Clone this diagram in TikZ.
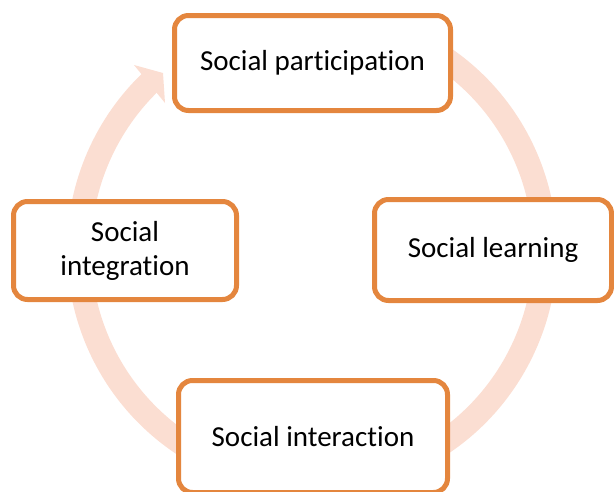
\documentclass[tikz,border=0pt]{standalone}
\usepackage{fontspec}
\setmainfont{Carlito}[Ligatures=NoCommon]
\usepackage{tikz}
\usetikzlibrary{positioning}
\definecolor{boxline}{RGB}{228,134,62}
\definecolor{ringfill}{RGB}{251,222,210}

\begin{document}
\begin{tikzpicture}[
    x=1pt, y=1pt,
    font=\fontsize{29}{34}\selectfont,
    stage/.style={draw=boxline, fill=white, rounded corners=14pt, line width=5pt, align=center, inner sep=0pt},
    ring/.style={draw=ringfill, line width=24pt, line cap=butt}
]
\clip (0,0) rectangle (614,-491);

\coordinate (hub) at (312,-250);

% cycle ring with its arrow head
\draw[ring] (hub) ++(60:233) arc[start angle=60, end angle=-227, radius=233];
\fill[ringfill] (134,-65) -- (163,-73) -- (165,-103) -- cycle;

\node[stage, minimum width=276pt, minimum height=95pt] (part) at (312.5,-63) {Social participation};
\node[stage, minimum width=237pt, minimum height=101pt] (learn) at (493,-250) {Social learning};
\node[stage, minimum width=269pt, minimum height=112pt] (inter) at (313,-436.5) {Social interaction};
\node[stage, minimum width=223pt, minimum height=98pt] (integ) at (125,-250.5) {Social\\integration};
\end{tikzpicture}
\end{document}
